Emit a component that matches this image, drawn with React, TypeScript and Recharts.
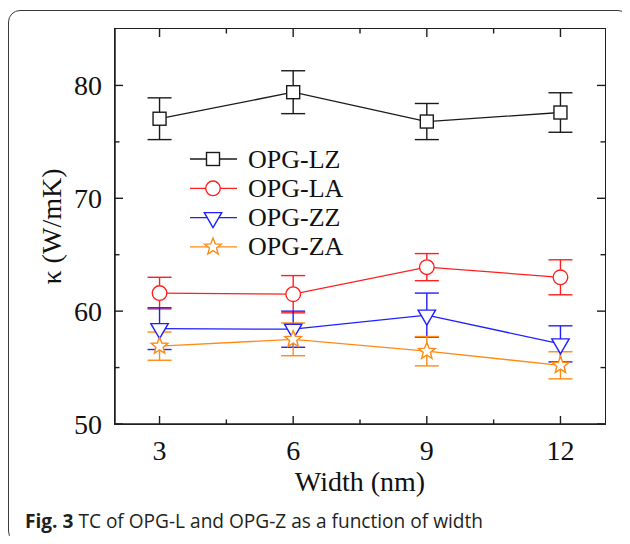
import * as React from 'react';
import { LineChart, Line, XAxis, YAxis, ErrorBar, Legend, Label } from 'recharts';

// values
const widths = [3, 6, 9, 12];
const lzVals = [77.05, 79.4, 76.8, 77.6];
const lzErr = [1.85, 1.9, 1.6, 1.75];
const laVals = [61.6, 61.5, 63.9, 63.0];
const laErr = [1.4, 1.65, 1.2, 1.55];
const zzVals = [58.45, 58.4, 59.65, 57.1];
const zzErr = [1.85, 1.6, 1.95, 1.6];
const zaVals = [56.9, 57.5, 56.45, 55.2];
const zaErr = [1.25, 1.45, 1.3, 1.2];

const xDomain = [2, 13];
const yDomain = [50, 85];
const xTicks = [3, 4.5, 6, 7.5, 9, 10.5, 12];
const xMajor = [3, 6, 9, 12];
const yTicks = [50, 55, 60, 65, 70, 75, 80];
const yMajor = [50, 60, 70, 80];

const AXIS = '#1e1e1e';
const SERIF = '"Liberation Serif", "Times New Roman", serif';

// plot area inside the 630x544 chart
const MARGIN = { top: 29, right: 25, bottom: 0, left: 0 };
const Y_AXIS_W = 115;
const X_AXIS_H = 120;

type Shape = 'square' | 'circle' | 'triangle' | 'star';

const series: { name: string; color: string; shape: Shape; vals: number[]; err: number[] }[] = [
  { name: 'OPG-LZ', color: '#1a1a1a', shape: 'square', vals: lzVals, err: lzErr },
  { name: 'OPG-LA', color: '#ff1f1f', shape: 'circle', vals: laVals, err: laErr },
  { name: 'OPG-ZZ', color: '#1f1fff', shape: 'triangle', vals: zzVals, err: zzErr },
  { name: 'OPG-ZA', color: '#ff8a14', shape: 'star', vals: zaVals, err: zaErr },
];

function starPath(cx: number, cy: number, R: number, r: number) {
  const pts: string[] = [];
  for (let i = 0; i < 10; i++) {
    const rad = i % 2 === 0 ? R : r;
    const a = -Math.PI / 2 + (i * Math.PI) / 5;
    pts.push(`${(cx + rad * Math.cos(a)).toFixed(2)},${(cy + rad * Math.sin(a)).toFixed(2)}`);
  }
  return `M${pts.join('L')}Z`;
}

function Marker({ shape, cx, cy, color }: { shape: Shape; cx: number; cy: number; color: string }) {
  const common = { fill: '#fff', stroke: color, strokeWidth: 1.4 };
  if (shape === 'square') return <rect x={cx - 6.5} y={cy - 6.5} width={13} height={13} {...common} />;
  if (shape === 'circle') return <circle cx={cx} cy={cy} r={7.3} {...common} />;
  if (shape === 'triangle')
    return <path d={`M${cx - 8.7},${cy - 5}L${cx + 8.7},${cy - 5}L${cx},${cy + 10}Z`} {...common} />;
  return <path d={starPath(cx, cy, 8.8, 3.8)} {...common} />;
}

function BottomTick(props: any) {
  const { x, y, payload } = props;
  if (!xMajor.includes(payload.value)) return <g />;
  return (
    <text x={x} y={y + 26} textAnchor="middle" dominantBaseline="central" fontFamily={SERIF} fontSize={28} fill="#111">
      {payload.value}
    </text>
  );
}

function LeftTick(props: any) {
  const { x, y, payload } = props;
  if (!yMajor.includes(payload.value)) return <g />;
  return (
    <text x={x - 13} y={y} textAnchor="end" dominantBaseline="central" fontFamily={SERIF} fontSize={28} fill="#111">
      {payload.value}
    </text>
  );
}

// inward tick marks on all four sides, placed through the chart scales
type Side = 'bottom' | 'top' | 'left' | 'right';
const tickData = (side: Side) =>
  side === 'bottom' || side === 'top'
    ? xTicks.map((t) => ({ x: t, y: side === 'bottom' ? yDomain[0] : yDomain[1], major: xMajor.includes(t) }))
    : yTicks.map((t) => ({ x: side === 'left' ? xDomain[0] : xDomain[1], y: t, major: yMajor.includes(t) }));

const tickDot = (side: Side) => (p: any) => {
  const len = p.payload.major ? 8 : 4.5;
  const { cx, cy } = p;
  const d =
    side === 'bottom'
      ? `M${cx},${cy}V${cy - len}`
      : side === 'top'
        ? `M${cx},${cy}V${cy + len}`
        : side === 'left'
          ? `M${cx},${cy}H${cx + len}`
          : `M${cx},${cy}H${cx - len}`;
  return <path key={`${side}-${p.index}`} d={d} stroke={AXIS} strokeWidth={1.4} fill="none" />;
};

function YTitle(props: any) {
  const { viewBox } = props;
  const cx = viewBox.x + 51;
  const cy = viewBox.y + viewBox.height / 2;
  return (
    <text x={cx} y={cy} transform={`rotate(-90 ${cx} ${cy})`} textAnchor="middle" dominantBaseline="central" fontFamily={SERIF} fontSize={28} fill="#111">
      κ (W/mK)
    </text>
  );
}

function LegendBox() {
  return (
    <svg width={200} height={120} style={{ display: 'block', overflow: 'visible' }}>
      {series.map((s, i) => {
        const cy = 14 + i * 29.3;
        return (
          <g key={s.name}>
            <line x1={0} x2={47} y1={cy} y2={cy} stroke={s.color} strokeWidth={1.3} />
            <Marker shape={s.shape} cx={23} cy={cy} color={s.color} />
            <text x={58} y={cy} dominantBaseline="central" fontFamily={SERIF} fontSize={26} fill="#111">
              {s.name}
            </text>
          </g>
        );
      })}
    </svg>
  );
}

const sides: Side[] = ['bottom', 'top', 'left', 'right'];

export default function App() {
  const W = 630;
  const H = 544;
  const plotW = W - Y_AXIS_W - MARGIN.left - MARGIN.right;
  const plotH = H - X_AXIS_H - MARGIN.top - MARGIN.bottom;
  return (
    <div style={{ position: 'relative', width: 614, height: 528 }}>
      <style>{'body { overflow: hidden; }'}</style>
      <div
        style={{
          position: 'absolute',
          left: 0,
          top: 2,
          width: 622,
          height: 533,
          boxSizing: 'border-box',
          border: '1.5px solid #3a3a3a',
          borderRadius: 12,
        }}
      />
      <div style={{ position: 'absolute', left: -8, top: -8 }}>
        <LineChart width={W} height={H} margin={MARGIN}>
          <XAxis
            dataKey="x"
            type="number"
            domain={xDomain}
            ticks={xTicks}
            interval={0}
            height={X_AXIS_H}
            tickSize={0}
            tickMargin={0}
            tickLine={false}
            tick={<BottomTick />}
            axisLine={{ stroke: AXIS, strokeWidth: 1.5 }}
            allowDataOverflow
          >
            <Label value="Width (nm)" position="insideTop" offset={47} fontFamily={SERIF} fontSize={28} fill="#111" />
          </XAxis>
          <YAxis
            type="number"
            domain={yDomain}
            ticks={yTicks}
            interval={0}
            width={Y_AXIS_W}
            tickSize={0}
            tickMargin={0}
            tickLine={false}
            tick={<LeftTick />}
            axisLine={{ stroke: AXIS, strokeWidth: 1.5 }}
            allowDataOverflow
          >
            <Label content={<YTitle />} />
          </YAxis>

          {sides.map((side) => (
            <Line
              key={side}
              data={tickData(side)}
              dataKey="y"
              stroke="none"
              dot={tickDot(side)}
              activeDot={false}
              legendType="none"
              isAnimationActive={false}
            />
          ))}

          <Legend
            layout="vertical"
            align="center"
            verticalAlign="middle"
            content={<LegendBox />}
            wrapperStyle={{ left: 190, top: 145, width: 200, height: 120 }}
          />
          {series.map((s) => (
            <Line
              key={s.name}
              name={s.name}
              data={widths.map((w, i) => ({ x: w, y: s.vals[i], err: s.err[i] }))}
              dataKey="y"
              stroke={s.color}
              strokeWidth={1.3}
              isAnimationActive={false}
              activeDot={false}
              dot={(p: any) => <Marker key={`${s.name}-${p.index}`} shape={s.shape} cx={p.cx} cy={p.cy} color={s.color} />}
            >
              <ErrorBar dataKey="err" direction="y" width={12} stroke={s.color} strokeWidth={1.4} />
            </Line>
          ))}
        </LineChart>
        {/* closed plot box drawn over the chart's plot area */}
        <div
          style={{
            position: 'absolute',
            left: MARGIN.left + Y_AXIS_W - 0.75,
            top: MARGIN.top - 0.75,
            width: plotW + 1.5,
            height: plotH + 1.5,
            boxSizing: 'border-box',
            border: `1.5px solid ${AXIS}`,
            pointerEvents: 'none',
          }}
        />
      </div>
      <div
        style={{
          position: 'absolute',
          left: 17,
          top: 500,
          fontFamily: '"Open Sans", sans-serif',
          fontSize: 19.1,
          color: '#231f20',
          whiteSpace: 'nowrap',
          lineHeight: '26px',
        }}
      >
        <b>Fig. 3</b> TC of OPG-L and OPG-Z as a function of width
      </div>
    </div>
  );
}
